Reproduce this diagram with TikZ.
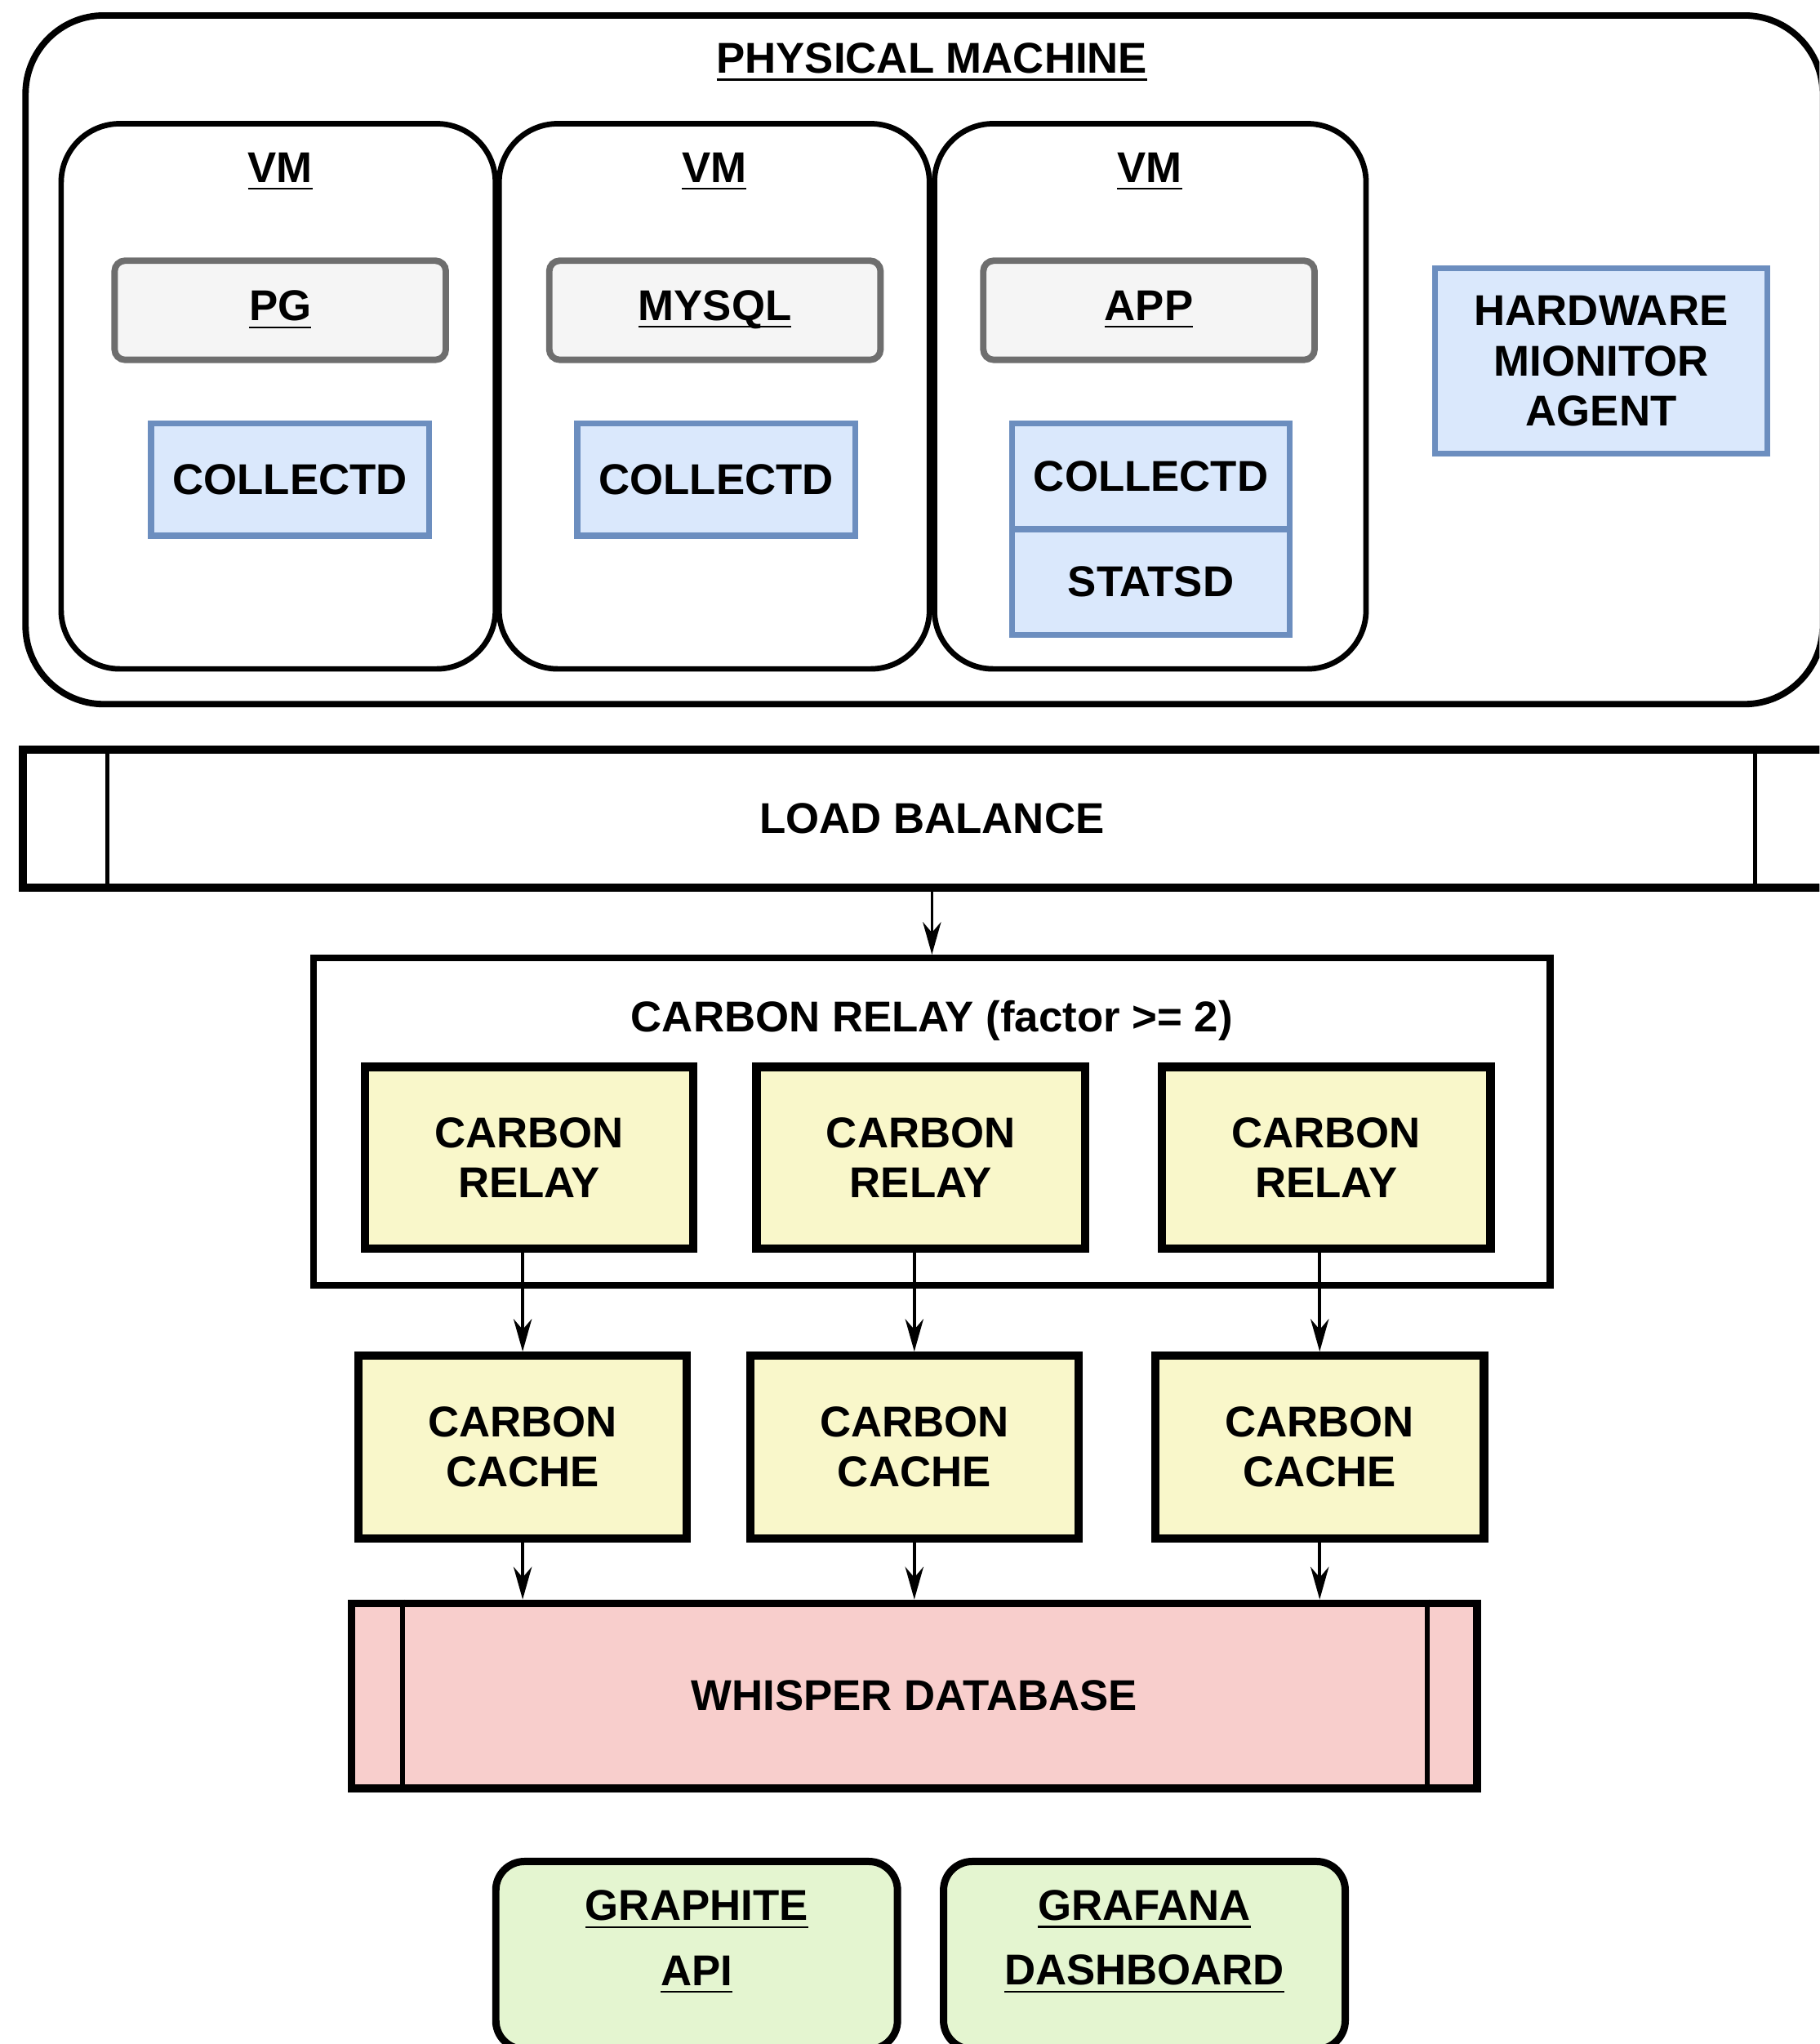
\documentclass[tikz,border=0pt]{standalone}
\usepackage{fontspec}
\setmainfont{Liberation Sans}
\usepackage{tikz}
\usetikzlibrary{arrows.meta}
\definecolor{appgray}{HTML}{F5F5F5}
\definecolor{appedge}{HTML}{6E6E6E}
\definecolor{agentblue}{HTML}{DAE8FC}
\definecolor{agentedge}{HTML}{6C8EBF}
\definecolor{relayyellow}{HTML}{F9F7CA}
\definecolor{dbpink}{HTML}{F8CECC}
\definecolor{uigreen}{HTML}{E4F5D0}

\begin{document}
\begin{tikzpicture}[x=0.01cm, y=-0.01cm,
  font=\fontsize{9.4}{11}\selectfont\bfseries,
  vmbox/.style={draw, line width=1.2pt, rounded corners=0.45cm, minimum width=#1, minimum height=4.18cm},
  appbox/.style={draw=appedge, fill=appgray, line width=1.4pt, rounded corners=0.08cm, minimum width=2.54cm, minimum height=0.76cm},
  agentbox/.style={draw=agentedge, fill=agentblue, line width=1.3pt, minimum width=2.13cm, minimum height=#1, align=center},
  relaybox/.style={draw, fill=relayyellow, line width=1.8pt, minimum width=2.52cm, minimum height=1.39cm, align=center},
  uibox/.style={draw, fill=uigreen, line width=1.6pt, rounded corners=0.22cm, minimum width=3.08cm, minimum height=1.44cm},
  arr/.style={-{Stealth[length=0.25cm,width=0.14cm]}, line width=0.65pt}]
\clip (0,0) rectangle (1396,1568);
\fill[white] (0,0) rectangle (1396,1568);

% physical machine
\node[draw, line width=1.4pt, rounded corners=0.6cm, minimum width=13.78cm, minimum height=5.28cm] (pm) at (709,276) {};
\node (pmtitle) at (715,48) {\underline{PHYSICAL MACHINE}};

\node[vmbox=3.33cm] (vm1) at (213.5,304) {};
\node[vmbox=3.30cm] (vm2) at (548,304) {};
\node[vmbox=3.31cm] (vm3) at (882.5,304) {};
\node (vm1t) at (215,132) {\underline{VM}};
\node (vm2t) at (548,132) {\underline{VM}};
\node (vm3t) at (882,132) {\underline{VM}};

\node[appbox] (pg) at (215,238) {\underline{PG}};
\node[appbox] (mysql) at (548.5,238) {\underline{\smash{MYSQL}\vphantom{M}}};
\node[appbox] (app) at (881.5,238) {\underline{APP}};

\node[agentbox=0.86cm] (cd1) at (222.5,368) {COLLECTD};
\node[agentbox=0.86cm] (cd2) at (549.5,368) {COLLECTD};
\node[agentbox=0.81cm] (cd3) at (883,365.5) {COLLECTD};
\node[agentbox=0.81cm] (statsd) at (883,446.5) {STATSD};
\node[agentbox=1.42cm, minimum width=2.55cm] (hw) at (1228.5,277) {HARDWARE\\MIONITOR\\AGENT};

% load balance
\node[draw, line width=1.8pt, minimum width=13.94cm, minimum height=1.06cm] (lb) at (715,628) {LOAD BALANCE};
\draw[line width=1pt] ([xshift=0.68cm]lb.north west) -- ([xshift=0.68cm]lb.south west);
\draw[line width=1pt] ([xshift=-0.69cm]lb.north east) -- ([xshift=-0.69cm]lb.south east);

% carbon relay
\node[draw, line width=1.5pt, minimum width=9.48cm, minimum height=2.51cm] (grp) at (715,860.5) {};
\node (grpt) at (715,783) {CARBON RELAY (factor >= 2)};
\node[relaybox] (r1) at (406,888) {CARBON\\RELAY};
\node[relaybox] (r2) at (706.5,888) {CARBON\\RELAY};
\node[relaybox] (r3) at (1017.5,888) {CARBON\\RELAY};

\node[relaybox, minimum height=1.40cm] (c1) at (401,1110) {CARBON\\CACHE};
\node[relaybox, minimum height=1.40cm] (c2) at (701.5,1110) {CARBON\\CACHE};
\node[relaybox, minimum height=1.40cm] (c3) at (1012.5,1110) {CARBON\\CACHE};

% whisper
\node[draw, fill=dbpink, line width=1.7pt, minimum width=8.63cm, minimum height=1.42cm] (wdb) at (701.5,1301) {WHISPER DATABASE};
\draw[line width=1.1pt] ([xshift=0.42cm]wdb.north west) -- ([xshift=0.42cm]wdb.south west);
\draw[line width=1.1pt] ([xshift=-0.41cm]wdb.north east) -- ([xshift=-0.41cm]wdb.south east);

\node[uibox] (api) at (534.5,1500) {};
\node[uibox] (grafana) at (878,1500) {};
\node[align=center] (apit) at (534.5,1490) {\underline{GRAPHITE}\\[3.2pt]\underline{API}};
\node[align=center] (grafanat) at (878,1490) {\underline{GRAFANA}\\[3.2pt]\underline{DASHBOARD}};

\draw[arr] (lb.south) -- (grp.north);
\foreach \i in {1,2,3} {
  \draw[arr] (c\i.north |- r\i.south) -- (c\i.north);
  \draw[arr] (c\i.south) -- (c\i.south |- wdb.north);
}
\end{tikzpicture}
\end{document}
